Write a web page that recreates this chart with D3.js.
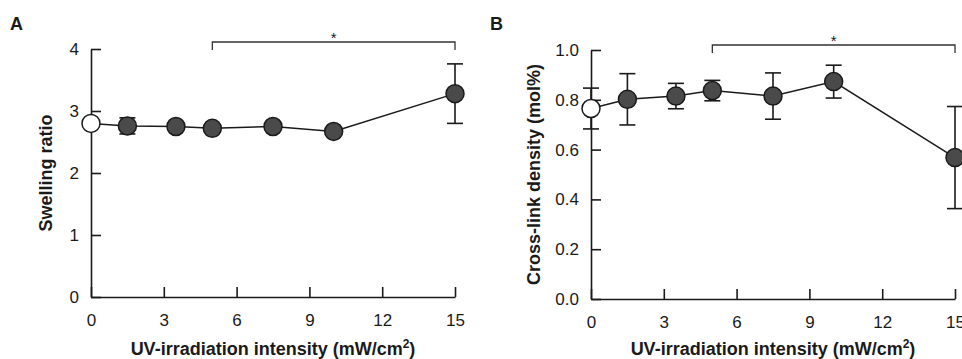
<!DOCTYPE html>
<html><head><meta charset="utf-8">
<script src="https://cdn.jsdelivr.net/npm/d3@7"></script>
<style>
html,body{margin:0;padding:0;background:#fff;}
svg{display:block;font-family:"Liberation Sans",Arial,sans-serif;}
</style></head>
<body>
<svg id="c" width="962" height="359"></svg>
<script>
const intensity = [0, 1.5, 3.5, 5, 7.5, 10, 15];
const swelling = [2.80, 2.76, 2.75, 2.72, 2.75, 2.67, 3.28];
const swellingErr = [0.07, 0.13, 0.06, 0.05, 0.07, 0.05, 0.48];
const crosslink = [0.765, 0.802, 0.815, 0.837, 0.815, 0.873, 0.568];
const crosslinkErr = [0.082, 0.103, 0.051, 0.041, 0.093, 0.066, 0.205];
const xTicks = [0, 3, 6, 9, 12, 15];
const yTicksA = [0, 1, 2, 3, 4];
const yTicksB = [0, 0.2, 0.4, 0.6, 0.8, 1.0];
const bracketA = [5, 15];
const bracketB = [5, 15];

const svg = d3.select("#c");
const ink = "#1a1a1a";

function panel(opts) {
  const g = svg.append("g");
  const x = d3.scaleLinear().domain([0, 15]).range([opts.x0, opts.x1]);
  const y = d3.scaleLinear().domain(opts.ydom).range([opts.y0, opts.y1]);

  const xa = g.append("g").attr("transform", `translate(0,${opts.y0})`)
    .call(d3.axisBottom(x).tickValues(xTicks).tickSizeInner(-10).tickSizeOuter(0).tickPadding(17));
  const ya = g.append("g").attr("transform", `translate(${opts.x0},0)`)
    .call(d3.axisLeft(y).tickValues(opts.yticks).tickFormat(opts.yfmt).tickSizeInner(-10).tickSizeOuter(0).tickPadding(12));
  [xa, ya].forEach(a => {
    a.selectAll("path,line").attr("stroke", ink).attr("stroke-width", 1.6);
    a.selectAll("text").attr("font-size", 17).attr("fill", ink);
  });

  const xt = g.append("text").attr("x", (opts.x0 + opts.x1) / 2).attr("y", 355)
    .attr("text-anchor", "middle").attr("font-size", 18).attr("font-weight", "bold").attr("fill", ink);
  xt.append("tspan").text("UV-irradiation intensity (mW/cm");
  xt.append("tspan").attr("font-size", 12).attr("dy", -7).text("2");
  xt.append("tspan").attr("dy", 7).text(")");

  g.append("text")
    .attr("transform", `translate(${opts.titleX},${(opts.y0 + opts.y1) / 2}) rotate(-90)`)
    .attr("text-anchor", "middle").attr("dy", "0.35em").attr("font-size", 18).attr("font-weight", "bold").attr("fill", ink)
    .text(opts.ytitle);

  g.append("text").attr("x", opts.letterX).attr("y", 30).attr("font-size", 18).attr("font-weight", "bold").attr("fill", ink).text(opts.letter);

  const by = opts.bracketY;
  g.append("path")
    .attr("d", `M${x(opts.bracket[0])},${by + 8}V${by}H${x(opts.bracket[1])}V${by + 8}`)
    .attr("fill", "none").attr("stroke", "#333").attr("stroke-width", 1.3);
  g.append("text").attr("x", x((opts.bracket[0] + opts.bracket[1]) / 2)).attr("y", by + 1)
    .attr("text-anchor", "middle").attr("font-size", 15).attr("fill", ink).text("*");

  const data = intensity.map((d, i) => ({ x: d, y: opts.vals[i], e: opts.errs[i], i }));

  const eb = g.append("g").attr("stroke", ink).attr("stroke-width", 1.6);
  data.forEach(d => {
    eb.append("line").attr("x1", x(d.x)).attr("x2", x(d.x)).attr("y1", y(d.y - d.e)).attr("y2", y(d.y + d.e));
    [d.y - d.e, d.y + d.e].forEach(v => {
      eb.append("line").attr("x1", x(d.x) - 8).attr("x2", x(d.x) + 8).attr("y1", y(v)).attr("y2", y(v));
    });
  });

  g.append("path").datum(data)
    .attr("d", d3.line().x(d => x(d.x)).y(d => y(d.y)))
    .attr("fill", "none").attr("stroke", ink).attr("stroke-width", 1.5);

  g.selectAll("circle.pt").data(data).join("circle")
    .attr("cx", d => x(d.x)).attr("cy", d => y(d.y)).attr("r", 9)
    .attr("fill", d => d.i === 0 ? "#fff" : "#4a4a4a")
    .attr("stroke", ink).attr("stroke-width", 1.5);
}

panel({
  x0: 91, x1: 455, y0: 297, y1: 49, ydom: [0, 4], yticks: yTicksA, yfmt: d3.format("d"),
  vals: swelling, errs: swellingErr, ytitle: "Swelling ratio", titleX: 46,
  letter: "A", letterX: 10, bracket: bracketA, bracketY: 42
});
panel({
  x0: 591, x1: 955, y0: 299, y1: 50, ydom: [0, 1], yticks: yTicksB, yfmt: d3.format(".1f"),
  vals: crosslink, errs: crosslinkErr, ytitle: "Cross-link density (mol%)", titleX: 534,
  letter: "B", letterX: 490, bracket: bracketB, bracketY: 45
});
</script>
</body></html>
